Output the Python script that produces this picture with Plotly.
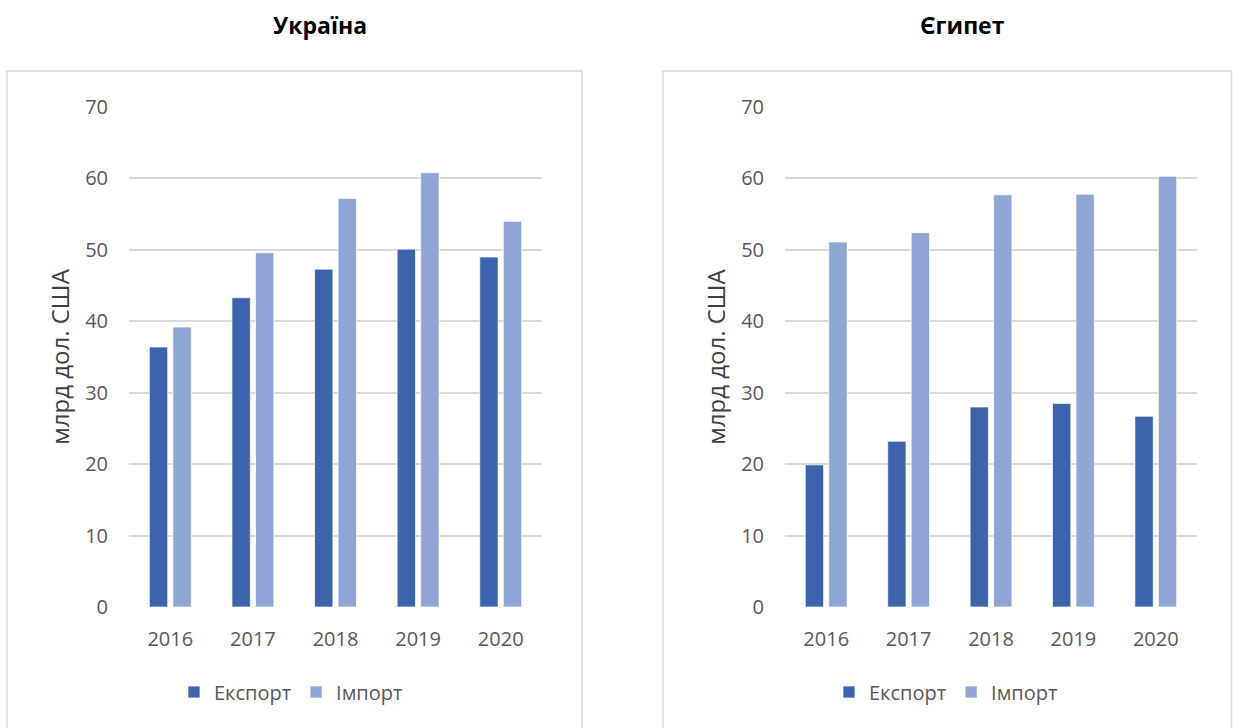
import plotly.graph_objects as go

years = ["2016", "2017", "2018", "2019", "2020"]
ua_export = [36.4, 43.3, 47.3, 50.1, 49.0]
ua_import = [39.2, 49.6, 57.2, 60.8, 54.0]
eg_export = [19.9, 23.2, 28.0, 28.5, 26.7]
eg_import = [51.1, 52.4, 57.7, 57.8, 60.3]
titles = ["Україна", "Єгипет"]
series_names = ["Експорт", "Імпорт"]
y_title = "млрд дол. США"

W, H = 1233, 728
C_EXP = "#3c64ad"
C_IMP = "#8fa5d5"
GRID = "#d9d9d9"
TXT = "#595959"
FONT = "Open Sans"

fig = go.Figure()

panels = [
    dict(exp=ua_export, imp=ua_import, x="x", y="y", legend="legend"),
    dict(exp=eg_export, imp=eg_import, x="x2", y="y2", legend="legend2"),
]
for p in panels:
    for name, vals, col in [(series_names[0], p["exp"], C_EXP), (series_names[1], p["imp"], C_IMP)]:
        fig.add_trace(go.Bar(
            x=years, y=vals, name=name, xaxis=p["x"], yaxis=p["y"],
            legend=p["legend"],
            marker=dict(color=col, line=dict(color="rgba(255,255,255,0.7)", width=1)),
        ))

def px(x):
    return x / W

def py(y):
    return 1 - y / H

ydom = [py(607), py(107)]
axis_common = dict(
    showgrid=False, zeroline=False, showline=False, ticks="", automargin=False,
    tickfont=dict(family=FONT, size=20, color=TXT),
)
yaxis_common = dict(
    range=[0, 70], dtick=10, showgrid=True, gridcolor=GRID, gridwidth=1.5,
    zeroline=False, showline=False, ticks="", automargin=False,
    tickfont=dict(family=FONT, size=20, color=TXT),
    ticklabelstandoff=20,
    title=dict(text=y_title, font=dict(family=FONT, size=24, color="#404040"), standoff=8),
    domain=ydom,
)

legend_common = dict(orientation="h", yanchor="middle", xanchor="center",
                     font=dict(family=FONT, size=20, color=TXT), itemwidth=30,
                     traceorder="normal", bgcolor="rgba(0,0,0,0)")

fig.update_layout(
    width=W, height=H,
    margin=dict(l=0, r=0, t=0, b=0, autoexpand=False),
    paper_bgcolor="white", plot_bgcolor="white",
    barmode="group", bargap=0.43, bargroupgap=0.22,
    xaxis=dict(domain=[px(129), px(542)], anchor="y", ticklabelstandoff=18, **axis_common),
    xaxis2=dict(domain=[px(785), px(1197)], anchor="y2", ticklabelstandoff=18, **axis_common),
    yaxis=dict(anchor="x", **yaxis_common),
    yaxis2=dict(anchor="x2", **yaxis_common),
    legend=dict(x=px(291), y=py(692), **legend_common),
    legend2=dict(x=px(946), y=py(692), **legend_common),
    shapes=[
        dict(type="rect", xref="paper", yref="paper", x0=px(7), x1=px(582), y0=py(740), y1=py(71),
             line=dict(color=GRID, width=1.5), layer="below"),
        dict(type="rect", xref="paper", yref="paper", x0=px(663), x1=px(1231.5), y0=py(740), y1=py(71),
             line=dict(color=GRID, width=1.5), layer="below"),
    ],
    annotations=[
        dict(text="<b>" + titles[0] + "</b>", x=px(320), y=py(25), xref="paper", yref="paper",
             xanchor="center", yanchor="middle",
             showarrow=False, font=dict(family=FONT, size=23, color="black")),
        dict(text="<b>" + titles[1] + "</b>", x=px(962), y=py(25), xref="paper", yref="paper",
             xanchor="center", yanchor="middle",
             showarrow=False, font=dict(family=FONT, size=23, color="black")),
    ],
)

fig.write_html("out.html", config={"displayModeBar": False},
               post_script="document.body.style.margin='0';document.body.style.overflow='hidden';")
